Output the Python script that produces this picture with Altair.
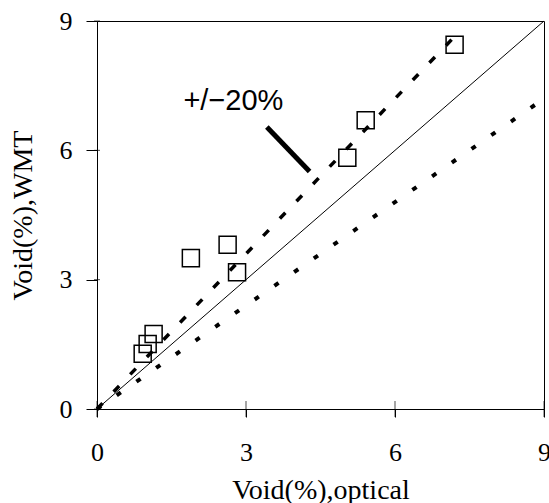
import altair as alt
import pandas as pd

# measured points (optical vs WMT)
meas_x = [7.20, 5.41, 5.04, 2.63, 1.89, 2.82, 1.14, 1.02, 0.92]
meas_y = [8.45, 6.70, 5.83, 3.81, 3.50, 3.17, 1.74, 1.51, 1.28]

# reference lines
ident_x = [0, 9]
ident_y = [0, 9]
upper_x = [0, 7.3]
upper_y = [0, 8.76]
lower_x = [0, 9]
lower_y = [0, 7.2]

tick_values = [0, 3, 6, 9]

# annotation
label_text = ["+/−20%"]
label_x = [1.74]
label_y = [6.94]
pointer_x = [3.42]
pointer_y = [6.54]
pointer_x2 = [4.28]
pointer_y2 = [5.51]

serif = "Liberation Serif"

xscale = alt.Scale(domain=[0, 9], nice=False, zero=False)
yscale = alt.Scale(domain=[0, 9], nice=False, zero=False)

xaxis = alt.Axis(values=tick_values, title="Void(%),optical", titleY=89, titleBaseline="alphabetic",
                 tickSize=8, labelPadding=22)
yaxis = alt.Axis(values=tick_values, title="Void(%),WMT", titleX=-66,
                 titleBaseline="alphabetic", tickSize=11, labelPadding=14)

ident = pd.DataFrame({"x": ident_x, "y": ident_y})
upper = pd.DataFrame({"x": upper_x, "y": upper_y})
lower = pd.DataFrame({"x": lower_x, "y": lower_y})
meas = pd.DataFrame({"x": meas_x, "y": meas_y})
ticks = pd.DataFrame({"v": tick_values})
lab = pd.DataFrame({"x": label_x, "y": label_y, "t": label_text})
ptr = pd.DataFrame({"x": pointer_x, "y": pointer_y, "x2": pointer_x2, "y2": pointer_y2})

X = lambda f: alt.X(f, scale=xscale, axis=xaxis)
Y = lambda f: alt.Y(f, scale=yscale, axis=yaxis)

base_line = alt.Chart(ident).mark_line(color="black", strokeWidth=1).encode(x=X("x:Q"), y=Y("y:Q"))
up_line = alt.Chart(upper).mark_line(color="black", strokeWidth=3.5, strokeDash=[8, 16]).encode(
    x=X("x:Q"), y=Y("y:Q"))
lo_line = alt.Chart(lower).mark_line(color="black", strokeWidth=4, strokeDash=[5, 19]).encode(
    x=X("x:Q"), y=Y("y:Q"))
pts = alt.Chart(meas).mark_point(shape="square", size=290, filled=False, color="black",
                                 strokeWidth=1.5, opacity=1).encode(x=X("x:Q"), y=Y("y:Q"))
xticks_in = alt.Chart(ticks).mark_tick(orient="vertical", size=16, thickness=1, color="black").encode(
    x=X("v:Q"), y=alt.datum(0))
yticks_in = alt.Chart(ticks).mark_tick(orient="horizontal", size=6, thickness=1, color="black").encode(
    y=Y("v:Q"), x=alt.datum(0))
text = alt.Chart(lab).mark_text(font="Liberation Sans", fontSize=29, align="left",
                                baseline="alphabetic", color="black").encode(
    x=X("x:Q"), y=Y("y:Q"), text="t:N")
pointer = alt.Chart(ptr).mark_rule(color="black", strokeWidth=5).encode(
    x=X("x:Q"), y=Y("y:Q"), x2="x2:Q", y2="y2:Q")

chart = alt.layer(base_line, up_line, lo_line, pts, xticks_in, yticks_in, text, pointer).properties(
    width=447, height=388,
    autosize=alt.AutoSizeParams(type="none"),
    padding={"left": 97, "top": 21, "right": 5, "bottom": 94},
    background="white",
).configure_view(stroke="black", strokeWidth=1).configure_axis(
    grid=False, labelFont=serif, labelFontSize=26, labelColor="black",
    tickColor="black", domainColor="black", labelFlush=False,
    titleFont=serif, titleFontSize=28, titleFontWeight="normal", titleColor="black",
)

chart.save("out.html", embed_options={"renderer": "svg", "actions": False})
